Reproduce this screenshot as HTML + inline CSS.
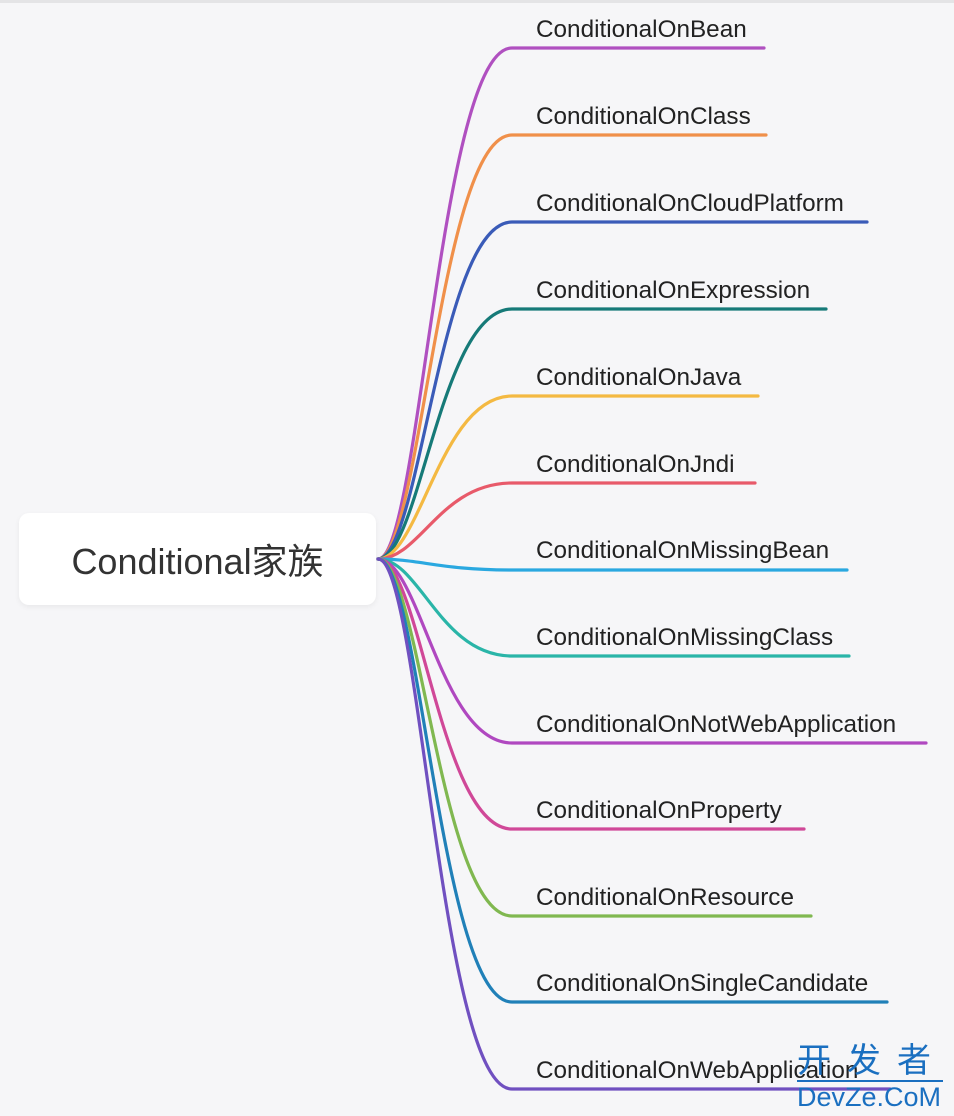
<!DOCTYPE html>
<html><head><meta charset="utf-8"><style>
html,body{margin:0;padding:0;}
body{width:954px;height:1116px;background:#f6f6f8;position:relative;overflow:hidden;font-family:"Liberation Sans","Noto Sans CJK SC",sans-serif;}
.top{position:absolute;left:0;top:0;width:954px;height:3px;background:#e4e4e6;}
.node{position:absolute;left:19px;top:513px;width:357px;height:92px;background:#fff;border-radius:10px;box-shadow:0 2px 6px rgba(0,0,0,0.06);display:flex;align-items:center;justify-content:center;font-size:36px;color:#333;}
.lbl{position:absolute;left:536px;font-size:24.3px;color:#222;white-space:nowrap;}
.wm{position:absolute;left:797px;top:1044px;width:160px;white-space:nowrap;color:#1a6fc0;font-size:34px;line-height:34px;letter-spacing:16px;}
.wm2{position:absolute;left:797px;top:1080px;width:146px;white-space:nowrap;color:#1a6fc0;font-size:27px;line-height:30px;border-top:2px solid #1a6fc0;}
</style></head><body>
<div class="top"></div>
<svg width="954" height="1116" style="position:absolute;left:0;top:0" fill="none" stroke-width="3.2" stroke-linecap="round">
<path d="M378 559 C420 559 440 48 512 48 H764" stroke="#b050c0"/>
<path d="M378 559 C420 559 440 135 512 135 H766" stroke="#f0904a"/>
<path d="M378 559 C420 559 440 222 512 222 H867" stroke="#3a5bb8"/>
<path d="M378 559 C420 559 440 309 512 309 H826" stroke="#167a78"/>
<path d="M378 559 C420 559 440 396 512 396 H758" stroke="#f4b942"/>
<path d="M378 559 C420 559 440 483 512 483 H755" stroke="#e85a6a"/>
<path d="M378 559 C420 559 440 570 512 570 H847" stroke="#2aa8e0"/>
<path d="M378 559 C420 559 440 656 512 656 H849" stroke="#2ab5a8"/>
<path d="M378 559 C420 559 440 743 512 743 H926" stroke="#b048c0"/>
<path d="M378 559 C420 559 440 829 512 829 H804" stroke="#d04898"/>
<path d="M378 559 C420 559 440 916 512 916 H811" stroke="#80b850"/>
<path d="M378 559 C420 559 440 1002 512 1002 H887" stroke="#2080b8"/>
<path d="M378 559 C420 559 440 1089 512 1089 H890" stroke="#7050c0"/>
</svg>
<div class="node">Conditional家族</div>
<div class="lbl" style="top:16px">ConditionalOnBean</div>
<div class="lbl" style="top:103px">ConditionalOnClass</div>
<div class="lbl" style="top:190px">ConditionalOnCloudPlatform</div>
<div class="lbl" style="top:277px">ConditionalOnExpression</div>
<div class="lbl" style="top:364px">ConditionalOnJava</div>
<div class="lbl" style="top:451px">ConditionalOnJndi</div>
<div class="lbl" style="top:537px">ConditionalOnMissingBean</div>
<div class="lbl" style="top:624px">ConditionalOnMissingClass</div>
<div class="lbl" style="top:711px">ConditionalOnNotWebApplication</div>
<div class="lbl" style="top:797px">ConditionalOnProperty</div>
<div class="lbl" style="top:884px">ConditionalOnResource</div>
<div class="lbl" style="top:970px">ConditionalOnSingleCandidate</div>
<div class="lbl" style="top:1057px">ConditionalOnWebApplication</div>
<div class="wm">开发者</div>
<div class="wm2">DevZe.CoM</div>
</body></html>
